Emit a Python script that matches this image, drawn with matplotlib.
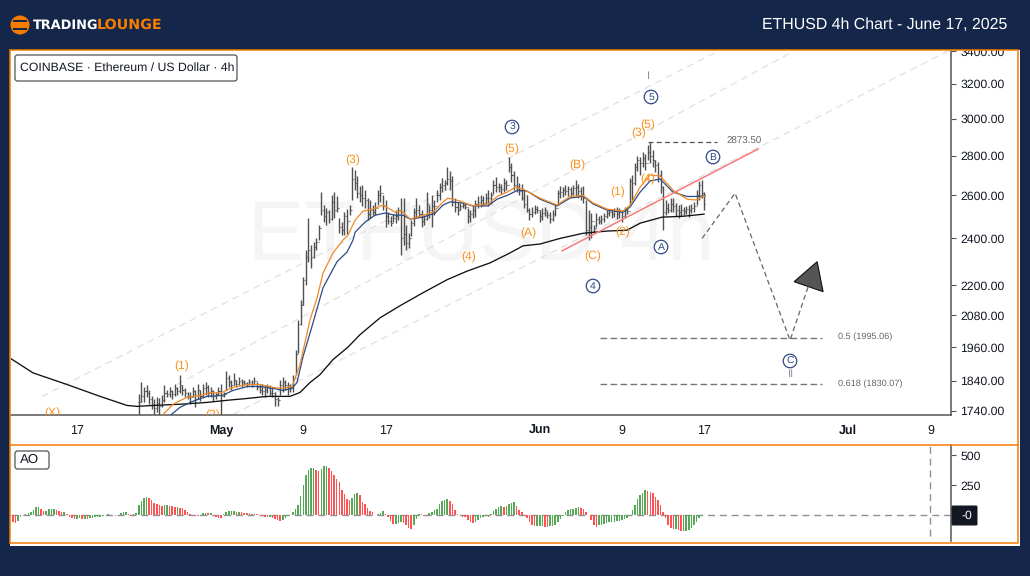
# ETHUSD 4h 차트 재현 (TradingLounge)

import matplotlib

matplotlib.use("Agg")
import matplotlib.pyplot as plt
import numpy as np
from matplotlib.patches import Circle, FancyBboxPatch, Polygon, Rectangle

plt.rcParams["font.family"] = ["Liberation Sans", "DejaVu Sans"]
plt.rcParams["axes.unicode_minus"] = False
plt.rcParams["text.hinting"] = "none"

# x 축은 5월 1일 기준 일수
BAR_START = -8.0
BARS_PER_DAY = 4

highs = [
    1795, 1835, 1818, 1825, 1811, 1790, 1778, 1785, 1781, 1794, 1825, 1811,
    1818, 1811, 1828, 1821, 1859, 1825, 1815, 1804, 1804, 1818, 1811, 1828,
    1811, 1831, 1838, 1825, 1818, 1811, 1804, 1818,
    1828, 1801, 1873, 1859, 1845, 1866, 1845, 1852, 1848, 1845, 1838, 1848,
    1845, 1852, 1838, 1831, 1828, 1825, 1828, 1825, 1821, 1804, 1785, 1845,
    1852, 1845, 1838, 1828, 1862, 1951, 2063, 2140, 2235, 2349, 2492, 2370,
    2384, 2400, 2460, 2616, 2554, 2540, 2530, 2600, 2616, 2595, 2492, 2474,
    2520, 2535, 2554, 2741, 2726, 2696, 2645, 2650, 2626, 2587, 2578, 2554,
    2569, 2626, 2650, 2600, 2578, 2520, 2501, 2511, 2530, 2545, 2587, 2587,
    2460, 2423, 2483, 2540, 2587, 2554, 2530, 2506, 2616, 2554, 2600, 2578,
    2626, 2660, 2686, 2676, 2741, 2721, 2696, 2587, 2569, 2564, 2569, 2564,
    2540, 2530, 2554, 2578, 2595, 2600, 2595, 2611, 2626, 2616, 2676, 2691,
    2660, 2655, 2686, 2676, 2791, 2760, 2721, 2696, 2660, 2655, 2626, 2600,
    2540, 2545, 2554, 2550,
    2530, 2540, 2545, 2525, 2520, 2530, 2559, 2626, 2645, 2640, 2650, 2645,
    2640, 2650, 2676, 2655, 2640, 2645, 2578, 2530, 2516, 2460, 2516, 2501,
    2506, 2516, 2530, 2535, 2535, 2540, 2545, 2540, 2530, 2545, 2540, 2686,
    2701, 2760, 2800, 2795, 2820, 2810, 2855, 2873, 2830, 2778, 2765, 2726,
    2645, 2578, 2564, 2587, 2587, 2564, 2554, 2559, 2545, 2550, 2554, 2559,
    2569, 2626, 2671, 2676, 2616,
]
lows = [
    1700, 1768, 1768, 1785, 1762, 1745, 1715, 1738, 1715, 1752, 1768, 1785,
    1785, 1778, 1788, 1791, 1798, 1791, 1785, 1778, 1762, 1785, 1752, 1778,
    1772, 1785, 1791, 1785, 1785, 1772, 1778, 1791,
    1715, 1785, 1811, 1818, 1811, 1825, 1818, 1825, 1818, 1825, 1818, 1825,
    1818, 1825, 1811, 1798, 1791, 1785, 1798, 1791, 1785, 1755, 1755, 1791,
    1804, 1811, 1791, 1804, 1804, 1862, 1937, 2044, 2120, 2200, 2298, 2270,
    2315, 2349, 2393, 2506, 2474, 2460, 2469, 2483, 2492, 2520, 2423, 2415,
    2415, 2420, 2506, 2578, 2626, 2587, 2569, 2550, 2540, 2483, 2492, 2506,
    2506, 2554, 2569, 2530, 2451, 2465, 2455, 2474, 2469, 2483, 2328, 2370,
    2349, 2358, 2410, 2455, 2492, 2497, 2451, 2460, 2483, 2492, 2451, 2506,
    2569, 2578, 2616, 2626, 2650, 2626, 2550, 2520, 2506, 2530, 2540, 2535,
    2469, 2474, 2492, 2497, 2540, 2545, 2550, 2559, 2550, 2559, 2606, 2616,
    2616, 2606, 2616, 2626, 2716, 2665, 2626, 2616, 2600, 2578, 2540, 2520,
    2483, 2497, 2511, 2515,
    2474, 2483, 2501, 2492, 2469, 2478, 2501, 2554, 2587, 2592, 2600, 2595,
    2592, 2600, 2592, 2587, 2578, 2564, 2415, 2393, 2400, 2428, 2451, 2465,
    2465, 2474, 2492, 2501, 2492, 2497, 2488, 2492, 2474, 2492, 2511, 2554,
    2578, 2650, 2721, 2701, 2741, 2726, 2778, 2760, 2741, 2716, 2665, 2611,
    2437, 2506, 2516, 2520, 2520, 2501, 2492, 2501, 2506, 2511, 2497, 2516,
    2520, 2554, 2578, 2587, 2530,
]
closes = [
    1770, 1790, 1805, 1800, 1780, 1760, 1750, 1765, 1755, 1775, 1800, 1795,
    1805, 1795, 1815, 1805, 1825, 1810, 1800, 1790, 1785, 1805, 1780, 1810,
    1790, 1815, 1820, 1800, 1805, 1790, 1795, 1805,
    1790, 1795, 1850, 1835, 1825, 1845, 1830, 1840, 1835, 1832, 1828, 1838,
    1830, 1840, 1820, 1810, 1805, 1810, 1815, 1800, 1800, 1780, 1775, 1825,
    1835, 1825, 1815, 1820, 1850, 1935, 2045, 2120, 2220, 2320, 2350, 2320,
    2360, 2385, 2445, 2530, 2500, 2520, 2490, 2570, 2530, 2540, 2450, 2440,
    2500, 2480, 2530, 2680, 2660, 2610, 2600, 2590, 2580, 2510, 2530, 2520,
    2540, 2600, 2610, 2550, 2500, 2480, 2470, 2495, 2500, 2530, 2400, 2420,
    2380, 2400, 2470, 2520, 2530, 2510, 2480, 2490, 2560, 2530, 2550, 2550,
    2600, 2640, 2650, 2660, 2680, 2670, 2570, 2545, 2530, 2550, 2555, 2545,
    2500, 2510, 2530, 2560, 2570, 2580, 2565, 2590, 2590, 2600, 2650, 2640,
    2640, 2630, 2660, 2650, 2740, 2700, 2650, 2640, 2620, 2590, 2560, 2530,
    2510, 2520, 2535, 2530,
    2500, 2515, 2530, 2505, 2490, 2510, 2540, 2610, 2615, 2625, 2620, 2630,
    2610, 2635, 2640, 2620, 2600, 2590, 2440, 2450, 2480, 2445, 2490, 2480,
    2490, 2500, 2515, 2520, 2510, 2525, 2510, 2520, 2500, 2530, 2525, 2670,
    2660, 2740, 2780, 2760, 2790, 2760, 2820, 2800, 2780, 2750, 2700, 2640,
    2520, 2540, 2530, 2560, 2550, 2530, 2520, 2530, 2525, 2535, 2530, 2540,
    2550, 2600, 2650, 2610, 2560,
]

# 이동평균선
fast_days = [
    -5.74, -4.67, -3.31, -2.04, -1.07, -0.1, 1.17, 2.53, 3.79, 5.06, 5.93, 6.91,
    7.68, 8.66, 9.34, 9.92, 10.89, 11.87, 12.35, 13.04, 13.81, 14.79, 15.76,
    16.93, 17.6, 18.39, 19.36, 20.62, 21.6, 22.08, 23.25, 24.42, 25.97, 26.85,
    27.82, 28.6, 29.38, 31.03, 32.68, 33.95, 35.21, 36.19, 37.55, 39.1, 39.79,
    40.76, 41.73, 42.7, 43.97, 45.33, 46.11, 46.89, 47.08,
]
fast_ma = [
    1725, 1762, 1785, 1791, 1801, 1798, 1818, 1828, 1828, 1818, 1815, 1821,
    1897, 2063, 2148, 2250, 2336, 2393, 2415, 2483, 2525, 2535, 2554,
    2520, 2525, 2488, 2501, 2520, 2569, 2587, 2573, 2550, 2559, 2595,
    2616, 2640, 2631, 2587, 2554, 2595, 2600, 2564, 2535, 2525, 2554,
    2640, 2701, 2696, 2626, 2582, 2578, 2595, 2595,
]
mid_days = [
    -4.96, -3.99, -2.72, -1.36, 0.1, 1.17, 2.53, 3.79, 5.06, 6.03, 6.91, 7.39,
    7.98, 8.95, 9.92, 11.28, 12.26, 12.84, 13.04, 14.01, 14.98, 15.95, 16.93, 17.7,
    18.39, 19.65, 20.82, 21.6, 22.28, 23.44, 24.51, 25.97, 26.85, 27.82, 28.89,
    29.77, 31.03, 32.68, 33.95, 35.21, 36.19, 37.55, 39.1, 39.79, 40.76, 41.73,
    42.7, 43.97, 45.33, 46.11, 46.89, 47.08,
]
mid_ma = [
    1725, 1752, 1772, 1788, 1791, 1808, 1821, 1821, 1815, 1808, 1815, 1835,
    1926, 2051, 2189, 2298, 2340, 2393, 2428, 2474, 2506, 2516, 2506, 2506,
    2488, 2497, 2516, 2554, 2569, 2564, 2550, 2550, 2582, 2600, 2626,
    2621, 2582, 2550, 2587, 2597, 2559, 2530, 2520, 2545, 2616, 2671,
    2681, 2616, 2595, 2595, 2597, 2597,
]
slow_days = [
    -20.43, -18.29, -14.98, -11.77, -9.14, -8.17, -6.61, -3.99, -1.36, 0.58, 2.53,
    4.47, 6.71, 7.68, 8.66, 9.63, 10.89, 12.35, 13.52, 15.47, 17.41, 19.65, 21.98,
    23.93, 26.17, 28.11, 29.38, 31.03, 32.98, 35.21, 37.55, 39.49, 40.76, 42.9,
    44.94, 46.98,
]
slow_ma = [
    1918, 1868, 1828, 1788, 1758, 1755, 1758, 1762, 1768, 1775, 1781,
    1788, 1788, 1801, 1835, 1862, 1915, 1960, 2006, 2070, 2117, 2169, 2222,
    2258, 2293, 2336, 2367, 2375, 2400, 2423, 2433, 2437, 2469, 2497,
    2501, 2511,
]

# 채널선 (시작일, 시작가, 끝일, 끝가)
channel_lines = [
    (-17.41, 1788, 48.54, 3409),
    (-4.28, 1828, 55.74, 3403),
    (1.17, 1729, 70.9, 3409),
]
trend_days = [33.17, 52.24]
trend_prices = [2345, 2835]
peak_days = [41.54, 48.25]
peak_price = 2873.5

# 피보나치 되돌림
fib_days = [36.87, 58.46]
fib_levels = [1995.06, 1830.07]
fib_labels = ["0.5 (1995.06)", "0.618 (1830.07)"]

# 예상 경로와 화살표
path_days = [46.79, 50.0, 55.35, 57.1]
path_prices = [2400, 2611, 1985, 2193]
arrow_days = [57.98, 55.74, 58.56]
arrow_prices = [2298, 2214, 2173]

# AO (6시간 간격, 4월 10일 12시부터)
AO_START = -20.5
ao_values = [
    -42, -58, -62, -50, -12, 4, 8, 17, 25, 42, 67, 67, 50, 33, 33, 50, 50, 50, 42, 33,
    25, 25, 8, -17, -25, -33, -29, -25, -29, -29, -33, -25, -21, -17, -17, -12, -8, 4,
    8, 4, 4, -8, 4, 17, 25, 25, 8, -8, 8, 21, 83, 117, 142, 150, 142, 125, 100, 92,
    83, 75, 83, 83, 79, 75, 67, 67, 62, 58, 46, 25, 8, 4, -4, -8, -4, 17, 21, 17,
    17, 4, -17, -21, -25, 8, 25, 33, 33, 33, 29, 29, 25, 21, 17, 17, 12, 12, 8, 0,
    -8, -12, -17, -17, -25, -33, -42, -46, -42, -25, -8, 0, 25, 50, 83, 158, 250, 333,
    375, 392, 392, 375, 371, 383, 408, 408, 392, 367, 333, 300,
    275, 208, 175, 133, 125, 142, 175, 183, 167, 108, 92, 58, 37, 25, 4, 12, 21, 33,
    12, -12, -50, -75, -75, -67, -58, -67, -83, -108, -117, -83, -33, 8, 8, -4, 0, 17,
    29, 42, 50, 92, 117, 125, 133, 117, 92, 42, 12, 0, -12, -17, -42, -58, -67, -58,
    -42, -25, -17, -8, -17, 8, 33, 50, 67, 75, 67, 75, 92, 104, 108, 75, 42, 25,
    0, -21, -58, -79, -92, -92, -92, -92, -96, -100, -92, -87, -79, -58, -29, -4, 29, 46,
    50, 54, 58, 67, 62, 50, 29, 0, -42, -83, -100, -83, -79, -71, -67, -58, -58, -54,
    -50, -50, -42, -33, -25, 4, 42, 83, 133, 167, 183, 208, 204, 196, 183, 154, 125, 83,
    25, -25, -83, -108, -117, -117, -125, -133, -133, -133, -121, -108, -83, -58, -25, -8, 4,
]

# 축 눈금
x_ticks = [-14, 0, 8, 16, 31, 39, 47, 61, 69]
x_labels = ["17", "May", "9", "17", "Jun", "9", "17", "Jul", "9"]
bold_labels = ["May", "Jun", "Jul"]
price_ticks = [1740, 1840, 1960, 2080, 2200, 2400, 2600, 2800, 3000, 3200, 3400]
ao_ticks = [250, 500]

# 파동 라벨
wave_text = ["(X)", "(1)", "(2)", "(3)", "(4)", "(5)", "(A)", "(B)", "(C)",
             "(1)", "(2)", "(3)", "(4)", "(5)"]
wave_pos = [(52, 413), (182, 366), (213, 415), (353, 160), (469, 257), (512, 149),
            (528, 233), (577, 165), (593, 256), (618, 192), (623, 232), (639, 133),
            (648, 179), (648, 125)]
circle_text = ["3", "5", "4", "B", "A", "C"]
circle_pos = [(512, 127), (651, 97), (593, 286), (713, 157), (661, 247), (790, 361)]

NAVY = "#15264b"
ORANGE = "#f57c00"
WAVE_ORANGE = "#f7931e"
CIRCLE_BLUE = "#2f4a85"
BAR_GREY = "#505050"
W, H = 1030, 576


def pane(left, top, right, bottom):
    """픽셀 좌표로 축을 만듭니다."""
    return [left / W, 1 - bottom / H, (right - left) / W, (bottom - top) / H]


fig = plt.figure(figsize=(W / 100, H / 100), dpi=100, facecolor=NAVY)

# 배경
bg = fig.add_axes([0, 0, 1, 1], zorder=0)
bg.set_xlim(0, W)
bg.set_ylim(H, 0)
bg.axis("off")
bg.add_patch(Rectangle((10, 50), 1010, 496, facecolor="white", edgecolor="none"))

# 가격 패널
ax = fig.add_axes(pane(11, 51, 951, 415), zorder=1)
ax.patch.set_alpha(0)
ax.set_yscale("log")
ax.set_xlim(-20.43, 71.0)
ax.set_ylim(1727, 3403)

ax.text(0.5, 0.485, "ETHUSD 4h", transform=ax.transAxes, fontsize=61, color="#f5f5f5",
        ha="center", va="center", zorder=0)

for x0, p0, x1, p1 in channel_lines:
    ax.plot([x0, x1], [p0, p1], color="#e0e0e0", lw=0.9, ls=(0, (5.5, 4)), zorder=1)

bar_days = BAR_START + np.arange(len(highs)) / BARS_PER_DAY
opens = [closes[0]] + closes[:-1]
ax.vlines(bar_days, lows, highs, color=BAR_GREY, lw=1.0, zorder=2)
ax.hlines(closes, bar_days, bar_days + 0.1, color=BAR_GREY, lw=0.8, zorder=2)
ax.hlines(opens, bar_days - 0.1, bar_days, color=BAR_GREY, lw=0.8, zorder=2)

ax.plot(slow_days, slow_ma, color="#111111", lw=0.95, zorder=3)
ax.plot(mid_days, mid_ma, color="#2c4a86", lw=0.9, zorder=3)
ax.plot(fast_days, fast_ma, color="#f08a24", lw=0.9, zorder=4)

ax.plot(trend_days, trend_prices, color="#f77a7a", lw=1.1, zorder=4)
ax.plot(peak_days, [peak_price, peak_price], color="#555555", lw=0.9, ls=(0, (4, 2.6)), zorder=4)
for level in fib_levels:
    ax.plot(fib_days, [level, level], color="#777777", lw=1.0, ls=(0, (4.8, 2.4)), zorder=4)
ax.plot(path_days, path_prices, color="#666666", lw=0.9, ls=(0, (4, 2.6)), zorder=4)
ax.add_patch(Polygon(list(zip(arrow_days, arrow_prices)), closed=True,
                     facecolor="#555555", edgecolor="#111111", lw=0.8, zorder=5))

ax.set_xticks(x_ticks)
ax.set_xticklabels(x_labels)
ax.tick_params(axis="x", length=0, pad=7, labelsize=9, labelcolor="#131722")
for label in ax.get_xticklabels():
    if label.get_text() in bold_labels:
        label.set_fontweight("bold")
ax.yaxis.tick_right()
ax.minorticks_off()
ax.set_yticks(price_ticks)
ax.set_yticklabels([f"{p:.2f}" for p in price_ticks])
ax.tick_params(axis="y", which="major", length=3.5, width=0.8, color="#555555", pad=3.2,
               labelsize=8.8, labelcolor="#131722")
ax.tick_params(axis="y", which="minor", length=0, labelright=False, labelleft=False)
for side in ["top", "left"]:
    ax.spines[side].set_visible(False)
for side in ["right", "bottom"]:
    ax.spines[side].set_color("#555555")
    ax.spines[side].set_linewidth(1.1)

# AO 패널
ao = fig.add_axes(pane(11, 445, 951, 541), zorder=1)
ao.patch.set_alpha(0)
ao.set_xlim(-20.43, 71.0)
ao.set_ylim(-214, 586)
ao_days = AO_START + np.arange(len(ao_values)) * 0.25
ao_colors = ["#ff5252" if i > 0 and v < ao_values[i - 1] else "#55a855"
             for i, v in enumerate(ao_values)]
ao.axhline(0, color="#8f8f98", lw=1, ls=(0, (5, 3.5)), zorder=1)
ao.bar(ao_days, ao_values, width=0.15, color=ao_colors, linewidth=0, zorder=2)
ao.axvline(68.95, ymin=0.05, ymax=1, color="#8f8f98", lw=1, ls=(0, (5, 3.5)), zorder=1)
ao.set_xticks([])
ao.yaxis.tick_right()
ao.set_yticks(ao_ticks)
ao.tick_params(axis="y", length=3.5, width=0.8, color="#555555", pad=3.2, labelsize=8.8,
               labelcolor="#131722")
for side in ["top", "left", "bottom"]:
    ao.spines[side].set_visible(False)
ao.spines["right"].set_color("#555555")
ao.spines["right"].set_linewidth(1.1)

# 전경: 머리글, 테두리, 라벨
fg = fig.add_axes([0, 0, 1, 1], zorder=2)
fg.patch.set_alpha(0)
fg.set_xlim(0, W)
fg.set_ylim(H, 0)
fg.axis("off")

fg.add_patch(Rectangle((0, 0), W, 50, facecolor=NAVY, edgecolor="none"))
fg.add_patch(Rectangle((10, 50), 1007.5, 493, facecolor="none", edgecolor=ORANGE, lw=1.1))
fg.plot([10, 1017.5], [445, 445], color=ORANGE, lw=1.1)

# 로고
fg.add_patch(Circle((20, 25), 9.5, facecolor=ORANGE, edgecolor="none"))
fg.add_patch(Rectangle((13, 20.3), 14, 1.8, facecolor=NAVY, edgecolor="none"))
fg.add_patch(Rectangle((13, 27.8), 14, 1.8, facecolor=NAVY, edgecolor="none"))
fg.text(33, 25, "TRADING", color="white", fontsize=9.3, fontweight="bold",
        family="DejaVu Sans", va="center", ha="left")
fg.text(97, 25, "LOUNGE", color=ORANGE, fontsize=10.3, fontweight="bold",
        family="DejaVu Sans", va="center", ha="left")
fg.text(1007, 25, "ETHUSD 4h Chart - June 17, 2025", color="white", fontsize=11.4,
        ha="right", va="center")

# 범례 상자
fg.add_patch(FancyBboxPatch((17, 57), 218, 22, boxstyle="round,pad=2,rounding_size=2.5",
                            facecolor="white", edgecolor="#555555", lw=0.9))
fg.text(20, 68, "COINBASE \u00b7 Ethereum / US Dollar \u00b7 4h", color="#131722",
        fontsize=8.8, va="center", ha="left")
fg.add_patch(FancyBboxPatch((17, 453), 30, 14, boxstyle="round,pad=2,rounding_size=2.5",
                            facecolor="white", edgecolor="#555555", lw=0.9))
fg.text(20, 460, "AO", color="#131722", fontsize=9.5, va="center", ha="left")

# 값 배지
fg.add_patch(FancyBboxPatch((952, 506), 25, 19, boxstyle="round,pad=0.5,rounding_size=1.5",
                            facecolor="#131722", edgecolor="none"))
fg.text(961, 516, "-0", color="white", fontsize=8.7, va="center", ha="left")

# 파동 라벨
clip_box = Rectangle((0, 0), W, 415, transform=fg.transData)
for text, (x, y) in zip(wave_text, wave_pos):
    t = fg.text(x, y, text, color=WAVE_ORANGE, fontsize=8.7, ha="center", va="center")
    t.set_clip_on(True)
    t.set_clip_path(clip_box)
for text, (x, y) in zip(circle_text, circle_pos):
    fg.text(x, y, text, color=CIRCLE_BLUE, fontsize=7.5, ha="center", va="center",
            bbox=dict(boxstyle="circle,pad=0.2", facecolor="white", edgecolor=CIRCLE_BLUE, lw=0.9))
fg.text(649, 76, "I", color="#8a8f9c", fontsize=8, ha="center", va="center")
fg.text(791, 374, "II", color="#8a8f9c", fontsize=8, ha="center", va="center")

fg.text(744.5, 141, "2873.50", color="#666666", fontsize=7, ha="center", va="center")
fg.text(838, 337, fib_labels[0], color="#666666", fontsize=6.6, ha="left", va="center")
fg.text(838, 384, fib_labels[1], color="#666666", fontsize=6.6, ha="left", va="center")

fig.savefig("out.png", dpi=100, facecolor=NAVY)
